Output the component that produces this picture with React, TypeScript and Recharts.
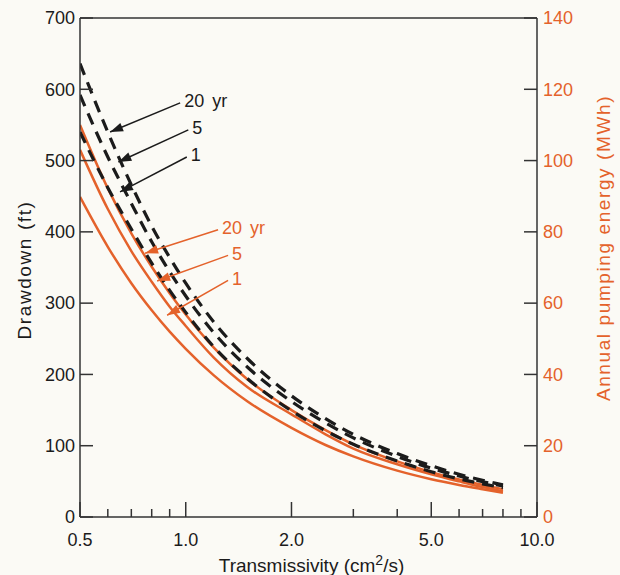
import React from "react";
import { ComposedChart, Line, XAxis, YAxis, ReferenceLine } from "recharts";

// transmissivity (cm2/s), log axis
const transmissivity = [0.5, 0.6, 0.7, 0.8, 0.9, 1.0, 1.2, 1.5, 2.0, 2.5, 3.0, 4.0, 5.0, 6.0, 7.0, 8.0];

// drawdown (ft), black dashed curves
const drawdown20yr = [636, 540, 466, 408, 364, 328, 274, 222, 170, 138, 116, 89, 72, 60, 51.5, 45];
const drawdown5yr = [592, 505, 440, 386, 344, 310, 259, 210, 162, 132, 111, 85, 68.5, 57.5, 49.5, 43.5];
const drawdown1yr = [540, 462, 404, 356, 318, 287, 239, 194, 149, 121, 102, 78.5, 63.5, 53.5, 46.5, 41];

// annual pumping energy (MWh), orange curves
const energy20yr = [110, 92.2, 79.6, 70.2, 62.8, 56.8, 47.6, 38.6, 30, 24.4, 20.4, 15.6, 12.6, 10.5, 9, 7.8];
const energy5yr = [103, 86.4, 74.6, 66, 59, 53.6, 44.8, 36.4, 28.8, 23.2, 19.2, 14.8, 12, 10, 8.4, 7.2];
const energy1yr = [89.8, 75.8, 65.6, 58, 52, 47.2, 39.8, 32.4, 25, 20.2, 17, 13, 10.6, 9, 7.8, 6.8];

const xTicks = [0.5, 0.6, 0.7, 0.8, 0.9, 1, 2, 3, 4, 5, 6, 7, 8, 9, 10];
const xMajor = [0.5, 1, 2, 5, 10];
const leftTicks = [0, 100, 200, 300, 400, 500, 600, 700];
const rightTicks = [0, 20, 40, 60, 80, 100, 120, 140];

// curve labels: text at the tail, arrow pointing to the curve (left axis units)
const blackNotes = [
  { text: "20 yr", tailT: 0.964, tailV: 581, tipT: 0.609, tipV: 540 },
  { text: "5", tailT: 1.017, tailV: 543, tipT: 0.643, tipV: 498 },
  { text: "1", tailT: 1.007, tailV: 505, tipT: 0.65, tipV: 456 },
];
const orangeNotes = [
  { text: "20 yr", tailT: 1.236, tailV: 403, tipT: 0.766, tipV: 370 },
  { text: "5", tailT: 1.32, tailV: 367, tipT: 0.829, tipV: 331 },
  { text: "1", tailT: 1.32, tailV: 332, tipT: 0.885, tipV: 283 },
];

const data = transmissivity.map((t, i) => ({
  t,
  dd20: drawdown20yr[i],
  dd5: drawdown5yr[i],
  dd1: drawdown1yr[i],
  en20: energy20yr[i],
  en5: energy5yr[i],
  en1: energy1yr[i],
}));

const ORANGE = "#e4622b";
const INK = "#1b1b1b";
const AXIS = "#333";
const FONT = 18;

const XTick = (props: any) => {
  const { x, y, payload } = props;
  const v = payload.value;
  const major = xMajor.includes(v);
  return (
    <g>
      <line x1={x} x2={x} y1={y} y2={y - (major ? 15 : 8)} stroke={AXIS} strokeWidth={1.5} />
      {major && (
        <text x={x} y={y + 29} textAnchor="middle" fontSize={FONT} fill={INK}>
          {v.toFixed(1)}
        </text>
      )}
    </g>
  );
};

const LeftTick = (props: any) => {
  const { x, y, payload } = props;
  return (
    <g>
      <line x1={x} x2={x + 13} y1={y} y2={y} stroke={AXIS} strokeWidth={1.5} />
      <text x={x - 5} y={y} dy="0.35em" textAnchor="end" fontSize={FONT} fill={INK}>
        {payload.value}
      </text>
    </g>
  );
};

const RightTick = (props: any) => {
  const { x, y, payload } = props;
  return (
    <g>
      <line x1={x - 13} x2={x} y1={y} y2={y} stroke={AXIS} strokeWidth={1.5} />
      <text x={x + 6} y={y} dy="0.35em" textAnchor="start" fontSize={FONT} fill={ORANGE}>
        {payload.value}
      </text>
    </g>
  );
};

const LeftTitle = (props: any) => {
  const vb = props.viewBox || { x: 0, y: 18, width: 80, height: 499 };
  const cx = vb.x + 24;
  const cy = vb.y + 252;
  return (
    <text x={cx} y={cy} transform={`rotate(-90 ${cx} ${cy})`} textAnchor="middle" dy="0.35em" fontSize={19} letterSpacing={1.6} fill={INK}>
      Drawdown  (ft)
    </text>
  );
};

const RightTitle = (props: any) => {
  const vb = props.viewBox || { x: 537, y: 18, width: 83, height: 499 };
  const cx = vb.x + 66;
  const cy = vb.y + 230;
  return (
    <text x={cx} y={cy} transform={`rotate(-90 ${cx} ${cy})`} textAnchor="middle" dy="0.35em" fontSize={19} letterSpacing={1.6} fill={ORANGE}>
      Annual pumping energy  (MWh)
    </text>
  );
};

const BottomTitle = (props: any) => {
  const vb = props.viewBox || { x: 80, y: 517, width: 457, height: 58 };
  const cx = vb.x + vb.width / 2 + 3;
  return (
    <text x={cx} y={vb.y + 55} textAnchor="middle" fontSize={19} fill={INK}>
      <tspan>Transmissivity  (cm</tspan>
      <tspan dy={-7} fontSize={14}>2</tspan>
      <tspan dy={7}>/s)</tspan>
    </text>
  );
};

const arrowShape = (text: string, color: string) => (p: any) => {
  const { x1, y1, x2, y2 } = p;
  const a = Math.atan2(y2 - y1, x2 - x1);
  const len = 13;
  const half = 4.5;
  const bx = x2 - len * Math.cos(a);
  const by = y2 - len * Math.sin(a);
  const pts = `${x2},${y2} ${bx - half * Math.sin(a)},${by + half * Math.cos(a)} ${bx + half * Math.sin(a)},${by - half * Math.cos(a)}`;
  return (
    <g>
      <line x1={x1} y1={y1} x2={x2} y2={y2} stroke={color} strokeWidth={1.5} />
      <polygon points={pts} fill={color} />
      <text x={x1 + 4} y={y1 - 2} dy="0.35em" fontSize={FONT} fill={color} wordSpacing={3}>
        {text}
      </text>
    </g>
  );
};

export default function App() {
  return (
    <div
      style={{
        position: "absolute",
        left: 0,
        top: 0,
        width: 620,
        height: 575,
        background: "#fbfaf5",
        fontFamily: "'Liberation Sans', Arial, sans-serif",
      }}
    >
      <ComposedChart width={620} height={575} data={data} margin={{ top: 18, right: 0, bottom: 0, left: 0 }}>
        <XAxis
          dataKey="t"
          type="number"
          scale="log"
          domain={[0.5, 10]}
          allowDataOverflow
          ticks={xTicks}
          interval={0}
          height={58}
          tickSize={0}
          tickMargin={0}
          tickLine={false}
          axisLine={{ stroke: AXIS, strokeWidth: 1.5 }}
          tick={<XTick />}
          label={<BottomTitle />}
        />
        <YAxis
          yAxisId="l"
          domain={[0, 700]}
          ticks={leftTicks}
          interval={0}
          width={80}
          tickSize={0}
          tickMargin={0}
          tickLine={false}
          axisLine={{ stroke: AXIS, strokeWidth: 1.5 }}
          tick={<LeftTick />}
          label={<LeftTitle />}
        />
        <YAxis
          yAxisId="r"
          orientation="right"
          domain={[0, 140]}
          ticks={rightTicks}
          interval={0}
          width={83}
          tickSize={0}
          tickMargin={0}
          tickLine={false}
          axisLine={{ stroke: AXIS, strokeWidth: 1.5 }}
          tick={<RightTick />}
          label={<RightTitle />}
        />
        <ReferenceLine yAxisId="l" y={700} stroke={AXIS} strokeWidth={1.5} />

        <Line yAxisId="r" dataKey="en20" type="monotone" stroke={ORANGE} strokeWidth={2.5} dot={false} isAnimationActive={false} />
        <Line yAxisId="r" dataKey="en5" type="monotone" stroke={ORANGE} strokeWidth={2.5} dot={false} isAnimationActive={false} />
        <Line yAxisId="r" dataKey="en1" type="monotone" stroke={ORANGE} strokeWidth={2.5} dot={false} isAnimationActive={false} />

        <Line yAxisId="l" dataKey="dd20" type="monotone" stroke={INK} strokeWidth={3.2} strokeDasharray="12 8" dot={false} isAnimationActive={false} />
        <Line yAxisId="l" dataKey="dd5" type="monotone" stroke={INK} strokeWidth={3.2} strokeDasharray="12 8" dot={false} isAnimationActive={false} />
        <Line yAxisId="l" dataKey="dd1" type="monotone" stroke={INK} strokeWidth={3.2} strokeDasharray="12 8" dot={false} isAnimationActive={false} />

        {blackNotes.map((n) => (
          <ReferenceLine
            key={"b" + n.text}
            yAxisId="l"
            segment={[{ x: n.tailT, y: n.tailV }, { x: n.tipT, y: n.tipV }]}
            shape={arrowShape(n.text, INK)}
          />
        ))}
        {orangeNotes.map((n) => (
          <ReferenceLine
            key={"o" + n.text}
            yAxisId="l"
            segment={[{ x: n.tailT, y: n.tailV }, { x: n.tipT, y: n.tipV }]}
            shape={arrowShape(n.text, ORANGE)}
          />
        ))}
      </ComposedChart>
    </div>
  );
}
